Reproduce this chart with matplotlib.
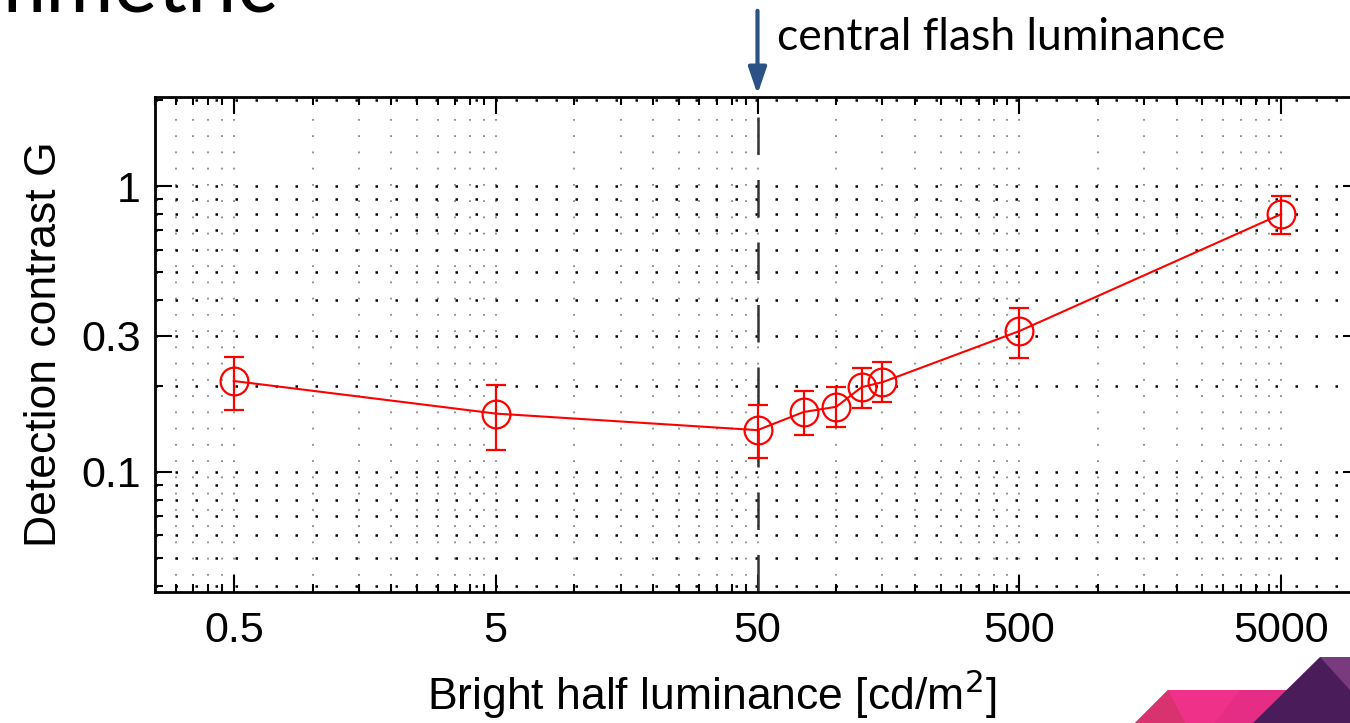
import numpy as np
import matplotlib.pyplot as plt
from matplotlib.patches import Polygon
from matplotlib.ticker import FixedLocator, NullFormatter

# Werte
luminance = [0.5, 5, 50, 75, 100, 125, 150, 500, 5000]
contrast = [0.208, 0.160, 0.140, 0.162, 0.169, 0.198, 0.206, 0.311, 0.798]
err_low = [0.165, 0.119, 0.112, 0.135, 0.144, 0.167, 0.176, 0.250, 0.679]
err_high = [0.252, 0.201, 0.171, 0.192, 0.198, 0.231, 0.243, 0.375, 0.923]

x_major = [0.5, 5, 50, 500, 5000]
x_labels = ['0.5', '5', '50', '500', '5000']
y_major = [0.1, 0.3, 1]
y_labels = ['0.1', '0.3', '1']
y_minor = [0.04, 0.05, 0.06, 0.07, 0.08, 0.09, 0.2, 0.4, 0.5, 0.6, 0.7, 0.8, 0.9, 2]
central_flash = 50

# MATLAB-artige Zwischenstriche: 1, 1.5, ... 4.5 je Dekade
x_minor = []
for k in range(-1, 4):
    for m in np.arange(1.0, 5.0, 0.5):
        v = m * 10.0 ** k
        if 0.25 <= v <= 10000:
            x_minor.append(v)

plt.rcParams['font.family'] = ['Liberation Sans', 'DejaVu Sans']

fig = plt.figure(figsize=(13.5, 7.23), dpi=100)
W, H = 1350, 723
ax = fig.add_axes([155 / W, 1 - 592 / H, (1360 - 155) / W, (592 - 97) / H])
ax.set_xscale('log')
ax.set_yscale('log')
ax.set_xlim(0.25, 10000)
ax.set_ylim(0.038, 2.05)

ax.xaxis.set_major_locator(FixedLocator(x_major))
ax.set_xticklabels(x_labels)
ax.xaxis.set_minor_locator(FixedLocator(x_minor))
ax.xaxis.set_minor_formatter(NullFormatter())
ax.yaxis.set_major_locator(FixedLocator(y_major))
ax.set_yticklabels(y_labels)
ax.yaxis.set_minor_locator(FixedLocator(y_minor))
ax.yaxis.set_minor_formatter(NullFormatter())

ax.tick_params(which='both', direction='in', top=True, right=True, width=1.5,
               labelsize=31)
ax.tick_params(axis='x', pad=14)
ax.tick_params(axis='y', pad=10)
ax.tick_params(which='major', length=12)
ax.tick_params(which='minor', length=6)
for s in ax.spines.values():
    s.set_linewidth(2)

# gepunktetes Gitter
ax.grid(which='both', axis='y', color='black', linestyle=(0, (1, 7)), linewidth=1.8)
ax.grid(which='both', axis='x', color='#888888', linestyle=(0, (1, 8)), linewidth=1.3)
ax.set_axisbelow(True)

ax.axvline(central_flash, color='#333333', linestyle=(0, (15, 10)), linewidth=1.8, zorder=2)

yerr = [np.array(contrast) - np.array(err_low), np.array(err_high) - np.array(contrast)]
ax.errorbar(luminance, contrast, yerr=yerr, color='red', marker='o', markersize=20,
            markerfacecolor='none', markeredgewidth=1.6, linewidth=1.5,
            capsize=7, capthick=1.6, elinewidth=1.6, zorder=3)

ax.set_xlabel('Bright half luminance [cd/m$^2$]', fontsize=32)
ax.xaxis.set_label_coords((712 - 155) / 1205, -(710 - 592) / 495)
ax.xaxis.label.set_va('baseline')
ax.set_ylabel('Detection contrast G', fontsize=32, labelpad=12)

# Pfeil + Beschriftung
x_arrow = ax.transData.transform((central_flash, 1))[0] / W
ax.annotate('', xy=(x_arrow, 1 - 97 / H), xytext=(x_arrow, 1 - 8 / H),
            xycoords='figure fraction', textcoords='figure fraction',
            arrowprops=dict(arrowstyle='-|>,head_width=0.55,head_length=1.6',
                            color='#2B5185', lw=3))
fig.text(777 / W, 1 - 38 / H, 'central flash luminance', fontsize=32,
         family=['Lato', 'DejaVu Sans'], va='center', ha='left')

# abgeschnittener Folientitel (oben links, nur der untere Rand sichtbar)
title = fig.text(277 / W, 1 - 12 / H, 'mmetric', fontsize=58,
                 family=['Lato', 'DejaVu Sans'], ha='right', va='baseline')
r = fig.canvas.get_renderer()
w = title.get_window_extent(r).width
title.set_fontsize(58 * 300 / w)

# Folien-Deko unten rechts
deco = [
    ([(1135, 723), (1168, 690), (1290, 690), (1258, 723)], '#F0318A'),
    ([(1168, 690), (1185, 723), (1135, 723)], '#D8326F'),
    ([(1240, 690), (1290, 690), (1258, 723), (1215, 723)], '#E62D86'),
    ([(1253, 723), (1320, 657), (1350, 657), (1350, 723)], '#4A1C5A'),
    ([(1320, 657), (1350, 690), (1350, 657)], '#7A3A7E'),
]
for pts, c in deco:
    fig.patches.append(Polygon([(px / W, 1 - py / H) for px, py in pts], closed=True,
                               transform=fig.transFigure, facecolor=c, edgecolor='none'))

fig.savefig('out.png', dpi=100)
